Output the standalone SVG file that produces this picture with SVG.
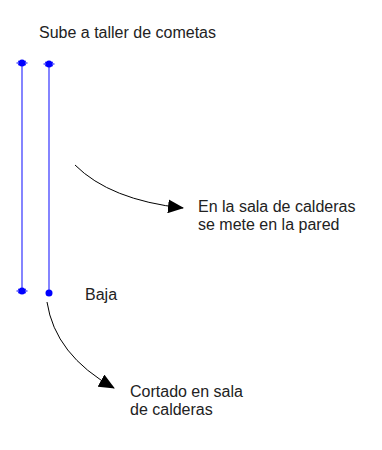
<svg xmlns="http://www.w3.org/2000/svg" width="382" height="450" viewBox="0 0 382 450">
<style>
text{font-family:"Liberation Sans",Arial,sans-serif;font-size:16px;fill:#222}
.pipe{stroke:#3333ff;stroke-width:1.2;fill:none}
.dot{fill:#0000ff}
.conn{stroke:#000;stroke-width:1;fill:none}
</style>
<defs>
<marker id="ah" markerWidth="16" markerHeight="14" refX="15" refY="7" orient="auto" markerUnits="userSpaceOnUse"><path d="M0,0 L16,7 L0,14 Z" fill="#000"/></marker>
<g id="star"><circle r="3.5"/><path d="M-5.5,0 H5.5 M-4,-2 L4,2 M-4,2 L4,-2" stroke="#0000ff" stroke-width="1"/></g>
</defs>
<rect width="382" height="450" fill="#fff"/>
<g id="title"><text x="39" y="38">Sube a taller de cometas</text></g>
<g id="pipe-left">
<line class="pipe" x1="22" y1="63" x2="22" y2="291"/>
<use href="#star" x="22" y="63" class="dot"/>
<use href="#star" x="22" y="291" class="dot"/>
</g>
<g id="pipe-right">
<line class="pipe" x1="49" y1="64" x2="49" y2="293"/>
<use href="#star" x="49" y="64" class="dot"/>
<circle class="dot" cx="49" cy="293" r="3.5"/>
</g>
<g id="baja"><text x="85" y="300">Baja</text></g>
<g id="pared"><text x="198" y="212">En la sala de calderas</text><text x="198" y="230">se mete en la pared</text></g>
<g id="cortado"><text x="130" y="397">Cortado en sala</text><text x="130" y="415">de calderas</text></g>
<g id="connectors">
<path class="conn" d="M75,165 Q110,200 183,208" marker-end="url(#ah)"/>
<path class="conn" d="M47,302 Q55,355 114,388" marker-end="url(#ah)"/>
</g>
</svg>
